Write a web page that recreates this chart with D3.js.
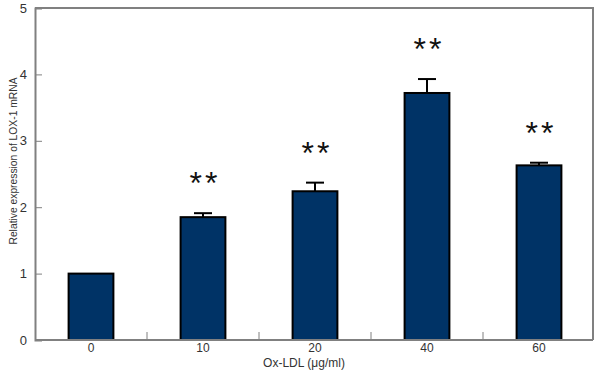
<!DOCTYPE html>
<html lang="en">
<head>
  <meta charset="UTF-8">
  <title>LOX-1 mRNA</title>
  <script src="https://cdn.jsdelivr.net/npm/d3@7"></script>
  <style>
    body { margin: 0; background: #fff; }
    text { font-family: "Liberation Sans", Arial, sans-serif; }
  </style>
</head>
<body>
  <script>
    // values
    const doses = ["0", "10", "20", "40", "60"];
    const means = [1.0, 1.85, 2.24, 3.72, 2.63];
    const errs = [0.0, 0.06, 0.13, 0.21, 0.04];
    const marks = ["", "**", "**", "**", "**"];
    const yTicks = [0, 1, 2, 3, 4, 5];

    const rows = doses.map((d, i) => ({dose: d, mean: means[i], err: errs[i], mark: marks[i]}));

    const w = 602, h = 377;
    const padL = 35, padR = 593, padT = 8, padB = 340;

    const svg = d3.select("body").append("svg")
      .attr("width", w)
      .attr("height", h);

    const x = d3.scaleBand()
      .domain(doses)
      .range([padL, padR + 2])
      .paddingInner(0.6)
      .paddingOuter(0.3);

    const y = d3.scaleLinear()
      .domain([0, 5])
      .range([padB, padT]);

    const cx = d => x(d.dose) + x.bandwidth() / 2;

    // frame (top + right)
    svg.append("path")
      .attr("d", `M${padL},${padT}H${padR}V${padB}`)
      .attr("fill", "none")
      .attr("stroke", "#808080")
      .attr("stroke-width", 2);

    // bars
    svg.selectAll(".bar")
      .data(rows)
      .enter()
      .append("rect")
      .attr("class", "bar")
      .attr("x", d => x(d.dose))
      .attr("y", d => y(d.mean))
      .attr("width", x.bandwidth())
      .attr("height", d => y(0) - y(d.mean))
      .attr("fill", "#003366")
      .attr("stroke", "#000")
      .attr("stroke-width", 2);

    // error bars
    const eb = svg.selectAll(".err")
      .data(rows.filter(d => d.err > 0))
      .enter()
      .append("g")
      .attr("class", "err")
      .attr("stroke", "#000")
      .attr("stroke-width", 2);
    eb.append("line")
      .attr("x1", cx)
      .attr("x2", cx)
      .attr("y1", d => y(d.mean))
      .attr("y2", d => y(d.mean + d.err));
    eb.append("line")
      .attr("x1", d => cx(d) - 9)
      .attr("x2", d => cx(d) + 9)
      .attr("y1", d => y(d.mean + d.err))
      .attr("y2", d => y(d.mean + d.err));

    // significance stars
    svg.selectAll(".star")
      .data(rows)
      .enter()
      .append("text")
      .attr("class", "star")
      .attr("x", d => cx(d) + 2)
      .attr("y", d => y(d.mean + d.err) - 19)
      .attr("text-anchor", "middle")
      .attr("font-size", 32)
      .attr("letter-spacing", 3)
      .attr("fill", "#111")
      .text(d => d.mark);

    // x axis
    const xAxis = svg.append("g")
      .attr("transform", `translate(0,${padB})`);
    xAxis.append("line")
      .attr("x1", padL).attr("x2", padR)
      .attr("stroke", "#808080").attr("stroke-width", 2);
    const step = x.step();
    xAxis.selectAll(".xt")
      .data(doses.slice(1))
      .enter()
      .append("line")
      .attr("class", "xt")
      .attr("x1", d => x(d) - (step - x.bandwidth()) / 2)
      .attr("x2", d => x(d) - (step - x.bandwidth()) / 2)
      .attr("y1", 0).attr("y2", -8)
      .attr("stroke", "#808080").attr("stroke-width", 1);
    xAxis.selectAll(".xl")
      .data(doses)
      .enter()
      .append("text")
      .attr("class", "xl")
      .attr("x", d => x(d) + x.bandwidth() / 2)
      .attr("y", 12)
      .attr("text-anchor", "middle")
      .attr("font-size", 12)
      .attr("fill", "#333")
      .text(d => d);
    svg.append("text")
      .attr("x", 304)
      .attr("y", 367)
      .attr("text-anchor", "middle")
      .attr("font-size", 12)
      .attr("fill", "#333")
      .text("Ox-LDL (μg/ml)");

    // y axis
    const yAxis = d3.axisRight(y)
      .tickValues(yTicks)
      .tickSize(7)
      .tickFormat(d3.format("d"));
    const gy = svg.append("g")
      .attr("transform", `translate(${padL},0)`)
      .call(yAxis);
    gy.select(".domain")
      .attr("stroke", "#808080").attr("stroke-width", 2);
    gy.selectAll(".tick line").attr("stroke", "#808080");
    gy.selectAll(".tick text")
      .attr("x", -8)
      .attr("text-anchor", "end")
      .attr("font-size", 13)
      .attr("fill", "#333");

    svg.append("text")
      .attr("transform", "translate(17,161) rotate(-90)")
      .attr("text-anchor", "middle")
      .attr("font-size", 10.3)
      .attr("fill", "#333")
      .text("Relative expression of LOX-1 mRNA");
  </script>
</body>
</html>
